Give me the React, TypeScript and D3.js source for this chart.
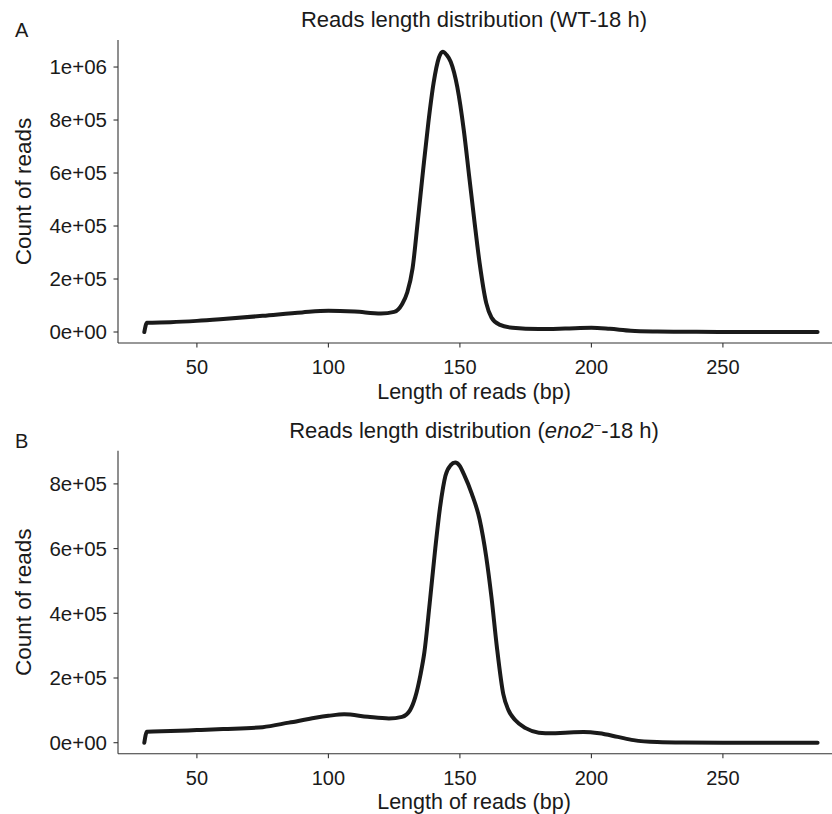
import * as d3 from "d3";

// read length (bp) and read counts
const wtLength = [30, 31, 40, 50, 60, 75, 90, 100, 110, 120, 125, 128, 130, 132, 134, 136, 138, 140, 142, 143.5, 145, 146.5, 149, 151.5, 153.5, 155.5, 157.5, 160, 162, 165, 170, 180, 190, 200, 207, 215, 225, 240, 260, 286];
const wtCount = [0, 35000, 37000, 42000, 49000, 61000, 74000, 80000, 77000, 70000, 76000, 105000, 150000, 240000, 420000, 610000, 790000, 940000, 1035000, 1058000, 1045000, 1020000, 925000, 760000, 590000, 420000, 260000, 110000, 55000, 28000, 16000, 11000, 13000, 16000, 12000, 5000, 2000, 500, 0, 0];

const enoLength = [30, 31, 40, 50, 60, 75, 85, 95, 100, 106, 115, 123, 128, 131, 133, 135, 136.5, 138.5, 140.5, 142.5, 144.5, 146.5, 148.2, 150, 151.5, 154.5, 157.5, 160, 162, 164, 166.5, 168.5, 171, 175, 180, 185, 190, 197, 203, 210, 216, 225, 235, 250, 286];
const enoCount = [0, 34000, 36000, 39000, 42000, 48000, 62000, 77000, 83000, 88000, 80000, 75000, 80000, 100000, 140000, 210000, 280000, 430000, 590000, 730000, 825000, 858000, 866000, 855000, 830000, 770000, 690000, 575000, 450000, 300000, 150000, 100000, 70000, 45000, 31000, 29000, 31000, 33000, 29000, 18000, 8000, 2000, 500, 0, 0];

const xTicks = [50, 100, 150, 200, 250];
const wtYTicks = [0, 200000, 400000, 600000, 800000, 1000000];
const wtYLabels = ["0e+00", "2e+05", "4e+05", "6e+05", "8e+05", "1e+06"];
const enoYTicks = [0, 200000, 400000, 600000, 800000];
const enoYLabels = ["0e+00", "2e+05", "4e+05", "6e+05", "8e+05"];

const xDomain = [20, 296.5];
const wtYDomain = [-41500, 1102000];
const enoYDomain = [-34000, 902600];

const W = 832;
const H = 814;
const FONT = "'Liberation Sans', Arial, Helvetica, sans-serif";
const INK = "#1a1a1a";

type PanelProps = {
  top: number;
  tag: string;
  title: React.ReactNode;
  xs: number[];
  ys: number[];
  yDomain: number[];
  yTicks: number[];
  yLabels: string[];
};

function Panel({ top, tag, title, xs, ys, yDomain, yTicks, yLabels }: PanelProps) {
  const plotTop = 40;
  const plotBottom = 343;
  const left = 118;

  const x = d3.scaleLinear().domain(xDomain).range([left, 845.2]);
  const y = d3.scaleLinear().domain(yDomain).range([plotBottom, plotTop]);

  const pts = xs.map((v, i) => [v, ys[i]] as [number, number]);
  const line = d3
    .line<[number, number]>()
    .x((d) => x(d[0]))
    .y((d) => y(d[1]))
    .curve(d3.curveMonotoneX);

  const midX = 474;

  return (
    <g transform={`translate(0,${top})`} fontFamily={FONT}>
      <text x={15} y={37} fontSize={20} fill={INK}>{tag}</text>
      <text x={midX} y={27} fontSize={22} fill={INK} textAnchor="middle">{title}</text>

      {/* axes */}
      <line x1={left} x2={x.range()[1]} y1={plotBottom} y2={plotBottom} stroke="#333" strokeWidth={1.1} />
      <line x1={left} x2={left} y1={plotTop} y2={plotBottom} stroke="#333" strokeWidth={1.1} />

      {xTicks.map((t) => (
        <g key={t} transform={`translate(${x(t)},${plotBottom})`}>
          <line y1={0} y2={4.5} stroke="#333" strokeWidth={1.1} />
          <text y={31} fontSize={20} fill={INK} textAnchor="middle">{t}</text>
        </g>
      ))}
      {yTicks.map((t, i) => (
        <g key={t} transform={`translate(${left},${y(t)})`}>
          <line x1={0} x2={-4.5} stroke="#333" strokeWidth={1.1} />
          <text x={-11} dy="0.36em" fontSize={20.5} fill={INK} textAnchor="end">{yLabels[i]}</text>
        </g>
      ))}

      <text x={midX} y={398.5} fontSize={21.5} fill={INK} textAnchor="middle">Length of reads (bp)</text>
      <text
        transform={`translate(31,${(plotTop + plotBottom) / 2}) rotate(-90)`}
        fontSize={22.5}
        fill={INK}
        textAnchor="middle"
      >
        Count of reads
      </text>

      <path d={line(pts) ?? ""} fill="none" stroke={INK} strokeWidth={4} strokeLinejoin="round" strokeLinecap="round" />
    </g>
  );
}

export default function App() {
  return (
    <svg width={W} height={H} style={{ position: "absolute", left: 0, top: 0, background: "#fff" }}>
      <rect width={W} height={H} fill="#fff" />
      <Panel
        top={0}
        tag="A"
        title="Reads length distribution (WT-18 h)"
        xs={wtLength}
        ys={wtCount}
        yDomain={wtYDomain}
        yTicks={wtYTicks}
        yLabels={wtYLabels}
      />
      <Panel
        top={410.7}
        tag="B"
        title={
          <>
            Reads length distribution (<tspan fontStyle="italic">eno2</tspan>
            <tspan dy={-8} fontSize={13}>−</tspan>
            <tspan dy={8}>-18 h)</tspan>
          </>
        }
        xs={enoLength}
        ys={enoCount}
        yDomain={enoYDomain}
        yTicks={enoYTicks}
        yLabels={enoYLabels}
      />
    </svg>
  );
}
